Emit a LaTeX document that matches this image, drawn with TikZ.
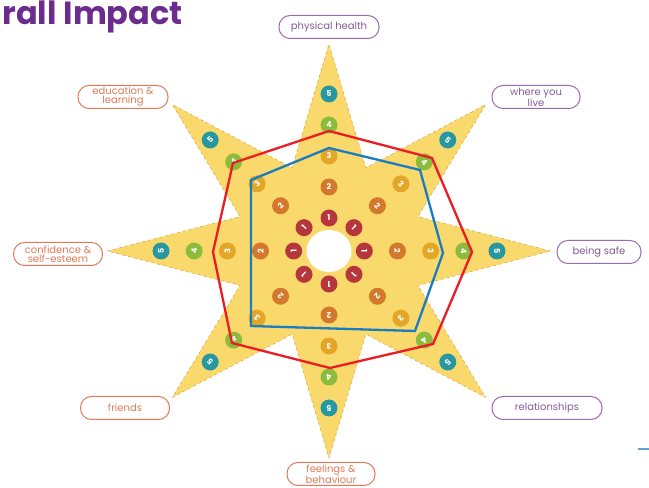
\documentclass[tikz,border=0pt]{standalone}
\usepackage{fontspec}
\setmainfont{Poppins}
\setsansfont{Poppins}
\usepackage{tikz}

\definecolor{titlepurple}{HTML}{6B2C8E}
\definecolor{tagpurple}{HTML}{9A6AB2}
\definecolor{tagorange}{HTML}{E07A58}
\definecolor{starfill}{HTML}{F9D96B}
\definecolor{starline}{HTML}{E0A040}
\definecolor{one}{HTML}{B5373C}
\definecolor{two}{HTML}{D4782C}
\definecolor{three}{HTML}{E3A626}
\definecolor{four}{HTML}{8DBB3C}
\definecolor{five}{HTML}{2898A0}
\definecolor{scorered}{HTML}{EC1C24}
\definecolor{scoreblue}{HTML}{1A7CC2}

\begin{document}
\begin{tikzpicture}[
    x=1pt,y=1pt,
    tag/.style={draw,line width=1pt,rounded corners=11pt,align=center,
        inner sep=1pt,minimum height=23pt,
        font={\fontsize{10}{9}\selectfont}},
    purpletag/.style={tag,draw=tagpurple,text=tagpurple!85!black},
    orangetag/.style={tag,draw=tagorange,text=tagorange},
    dot/.style={circle,inner sep=0pt,minimum size=17pt,text=white,
        font={\fontsize{8}{8}\selectfont\bfseries}},
    score/.style={line width=2.3pt,line join=miter},
    ]
    \useasboundingbox (0,0) rectangle (649,488);
    % Title (cut off at the left)
    \node[anchor=base west,text=titlepurple,
          font={\fontsize{32}{32}\selectfont\bfseries}] (title)
          at (-1,463) {rall Impact};

    \begin{scope}[shift={(329,237)},xscale=1.07]
        % Star
        \draw[fill=starfill,draw=starline,dashed,line width=.5pt]
            (0:207) \foreach \a in {0,45,...,315} {
                -- (\a+22.5:90) -- (\a+45:207)} -- cycle;
        \fill[white] (0,0) circle (21);
        % Numbered circles along the rays
        \foreach \a in {0,45,...,315}
            \foreach \k/\c in {1/one,2/two,3/three,4/four,5/five}
                \node[dot,fill=\c,rotate=\a-90] (n\a-\k)
                    at (\a:{33+31*(\k-1)}) {\k};
    \end{scope}

    % Scores
    \draw[score,scorered] (329,357) -- (432,330) -- (472,236) -- (433,144)
        -- (330,120) -- (232,145) -- (213,236) -- (233,325) -- cycle;
    \draw[score,scoreblue] (251,308) -- (329,340) -- (420,318) -- (443,235)
        -- (415,157) -- (251,162) -- cycle;

    % Areas
    \node[purpletag,minimum width=100pt] (health) at (329,461) {physical health};
    \node[purpletag,minimum width=88pt] (home) at (536,391) {where you\\live};
    \node[purpletag,minimum width=84pt] (safe) at (599,236) {being safe};
    \node[purpletag,minimum width=110pt] (relations) at (547,80) {relationships};
    \node[orangetag,minimum width=88pt] (feelings) at (331,14) {feelings \&\\behaviour};
    \node[orangetag,minimum width=89pt] (friends) at (125,80) {friends};
    \node[orangetag,minimum width=89pt] (confidence) at (58,234) {confidence \&\\self-esteem};
    \node[orangetag,minimum width=90pt] (education) at (123,391) {education \&\\learning};

    % stray mark at the edge
    \draw[scoreblue!70,line width=1.5pt] (638,39) -- (649,39);
\end{tikzpicture}
\end{document}
